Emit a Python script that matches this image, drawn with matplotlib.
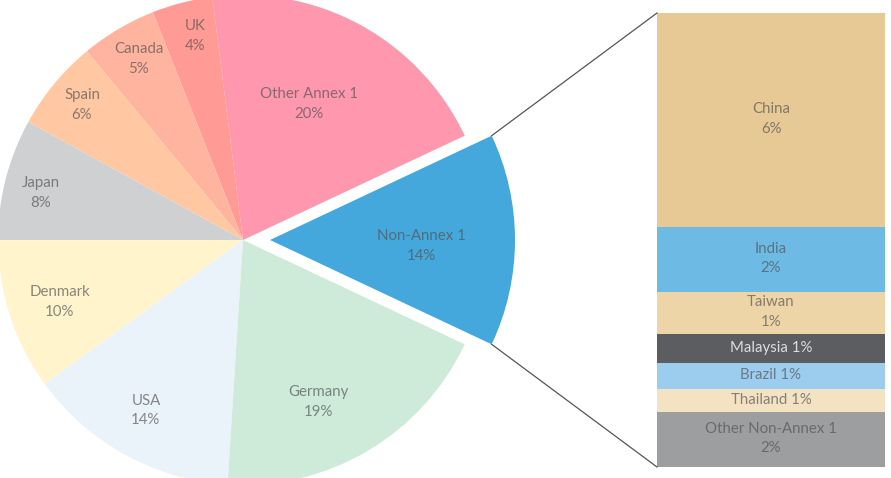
import numpy as np
import matplotlib.pyplot as plt
import matplotlib.colors as mcolors

# pie: share of total (%)
pie_labels = ['Non-Annex 1', 'Other Annex 1', 'UK', 'Canada', 'Spain',
              'Japan', 'Denmark', 'USA', 'Germany']
pie_values = [14, 20, 4, 5, 6, 8, 10, 14, 19]
pie_colors = ['#45a8dc', '#ff97ae', '#ff9a94', '#ffb49f', '#ffc8a3',
              '#cfd0d2', '#fff4cc', '#ebf3fa', '#cdebd8']

# breakdown of Non-Annex 1 (top to bottom)
bar_labels = ['China', 'India', 'Taiwan', 'Malaysia', 'Brazil', 'Thailand',
              'Other Non-Annex 1']
bar_values = [6.6, 2.0, 1.3, 0.9, 0.8, 0.7, 1.7]
bar_text = ['6%', '2%', '1%', '1%', '1%', '1%', '2%']
bar_colors = ['#e6c994', '#6dbbe4', '#edd5a8', '#5c5d60', '#9dcdee',
              '#f3e3c3', '#9d9ea0']
bar_oneline = [False, False, False, True, True, True, False]

FONT = ['Lato', 'DejaVu Sans']


def text_color(c):
    r = np.array(mcolors.to_rgb(c))
    return tuple(0.32 * r + 0.68 * 0.32)


fig = plt.figure(figsize=(8.91, 4.78), dpi=100)
ax = fig.add_axes([0, 0, 1, 1])

R = 245
C = (243, 238)
# pie explode is in data units here (pixels)
explode = [27] + [0] * (len(pie_values) - 1)
wedges, _ = ax.pie(pie_values, colors=pie_colors, startangle=-25.2,
                   explode=explode, radius=R, center=C,
                   wedgeprops=dict(linewidth=0))
ax.set_xlim(0, 891)
ax.set_ylim(0, 478)
ax.set_aspect('equal')
ax.axis('off')

# label placement: (fraction of radius, angle nudge in degrees)
label_pos = {'Non-Annex 1': (0.62, -2.3), 'Other Annex 1': (0.617, 2.9),
             'UK': (0.855, -1.2), 'Canada': (0.852, -0.7),
             'Spain': (0.858, -0.4), 'Japan': (0.847, 1.3),
             'Denmark': (0.789, 0.7), 'USA': (0.80, -0.9),
             'Germany': (0.73, -5.7)}
for w, lab, val, col in zip(wedges, pie_labels, pie_values, pie_colors):
    rf, dt = label_pos[lab]
    mid = np.deg2rad((w.theta1 + w.theta2) / 2 + dt)
    cx, cy = w.center
    rr = rf * w.r
    ax.text(cx + rr * np.cos(mid), cy + rr * np.sin(mid), f'{lab}\n{val}%',
            ha='center', va='center', fontsize=10.8, family=FONT,
            color=text_color(col), linespacing=1.5)

# stacked bar on the right
bx0, bx1 = 657, 885
btop, bbot = 465, 11
scale = (btop - bbot) / sum(bar_values)
top = btop
for lab, val, txt, col, one in zip(bar_labels, bar_values, bar_text,
                                   bar_colors, bar_oneline):
    h = val * scale
    ax.bar((bx0 + bx1) / 2, h, bottom=top - h, width=bx1 - bx0,
           color=col, linewidth=0)
    s = f'{lab} {txt}' if one else f'{lab}\n{txt}'
    tc = '#dcdcdc' if col == '#5c5d60' else text_color(col)
    ax.text((bx0 + bx1) / 2, top - h / 2 + 1, s, ha='center', va='center',
            fontsize=10.8, family=FONT, color=tc, linespacing=1.5)
    top -= h

# connector lines from the exploded wedge to the bar
w = wedges[0]
cx, cy = w.center
for ang, by in [(w.theta2, btop), (w.theta1, bbot)]:
    a = np.deg2rad(ang)
    ax.plot([cx + w.r * np.cos(a), bx0], [cy + w.r * np.sin(a), by],
            color='#555555', linewidth=0.9)

fig.savefig('out.png', dpi=100)
